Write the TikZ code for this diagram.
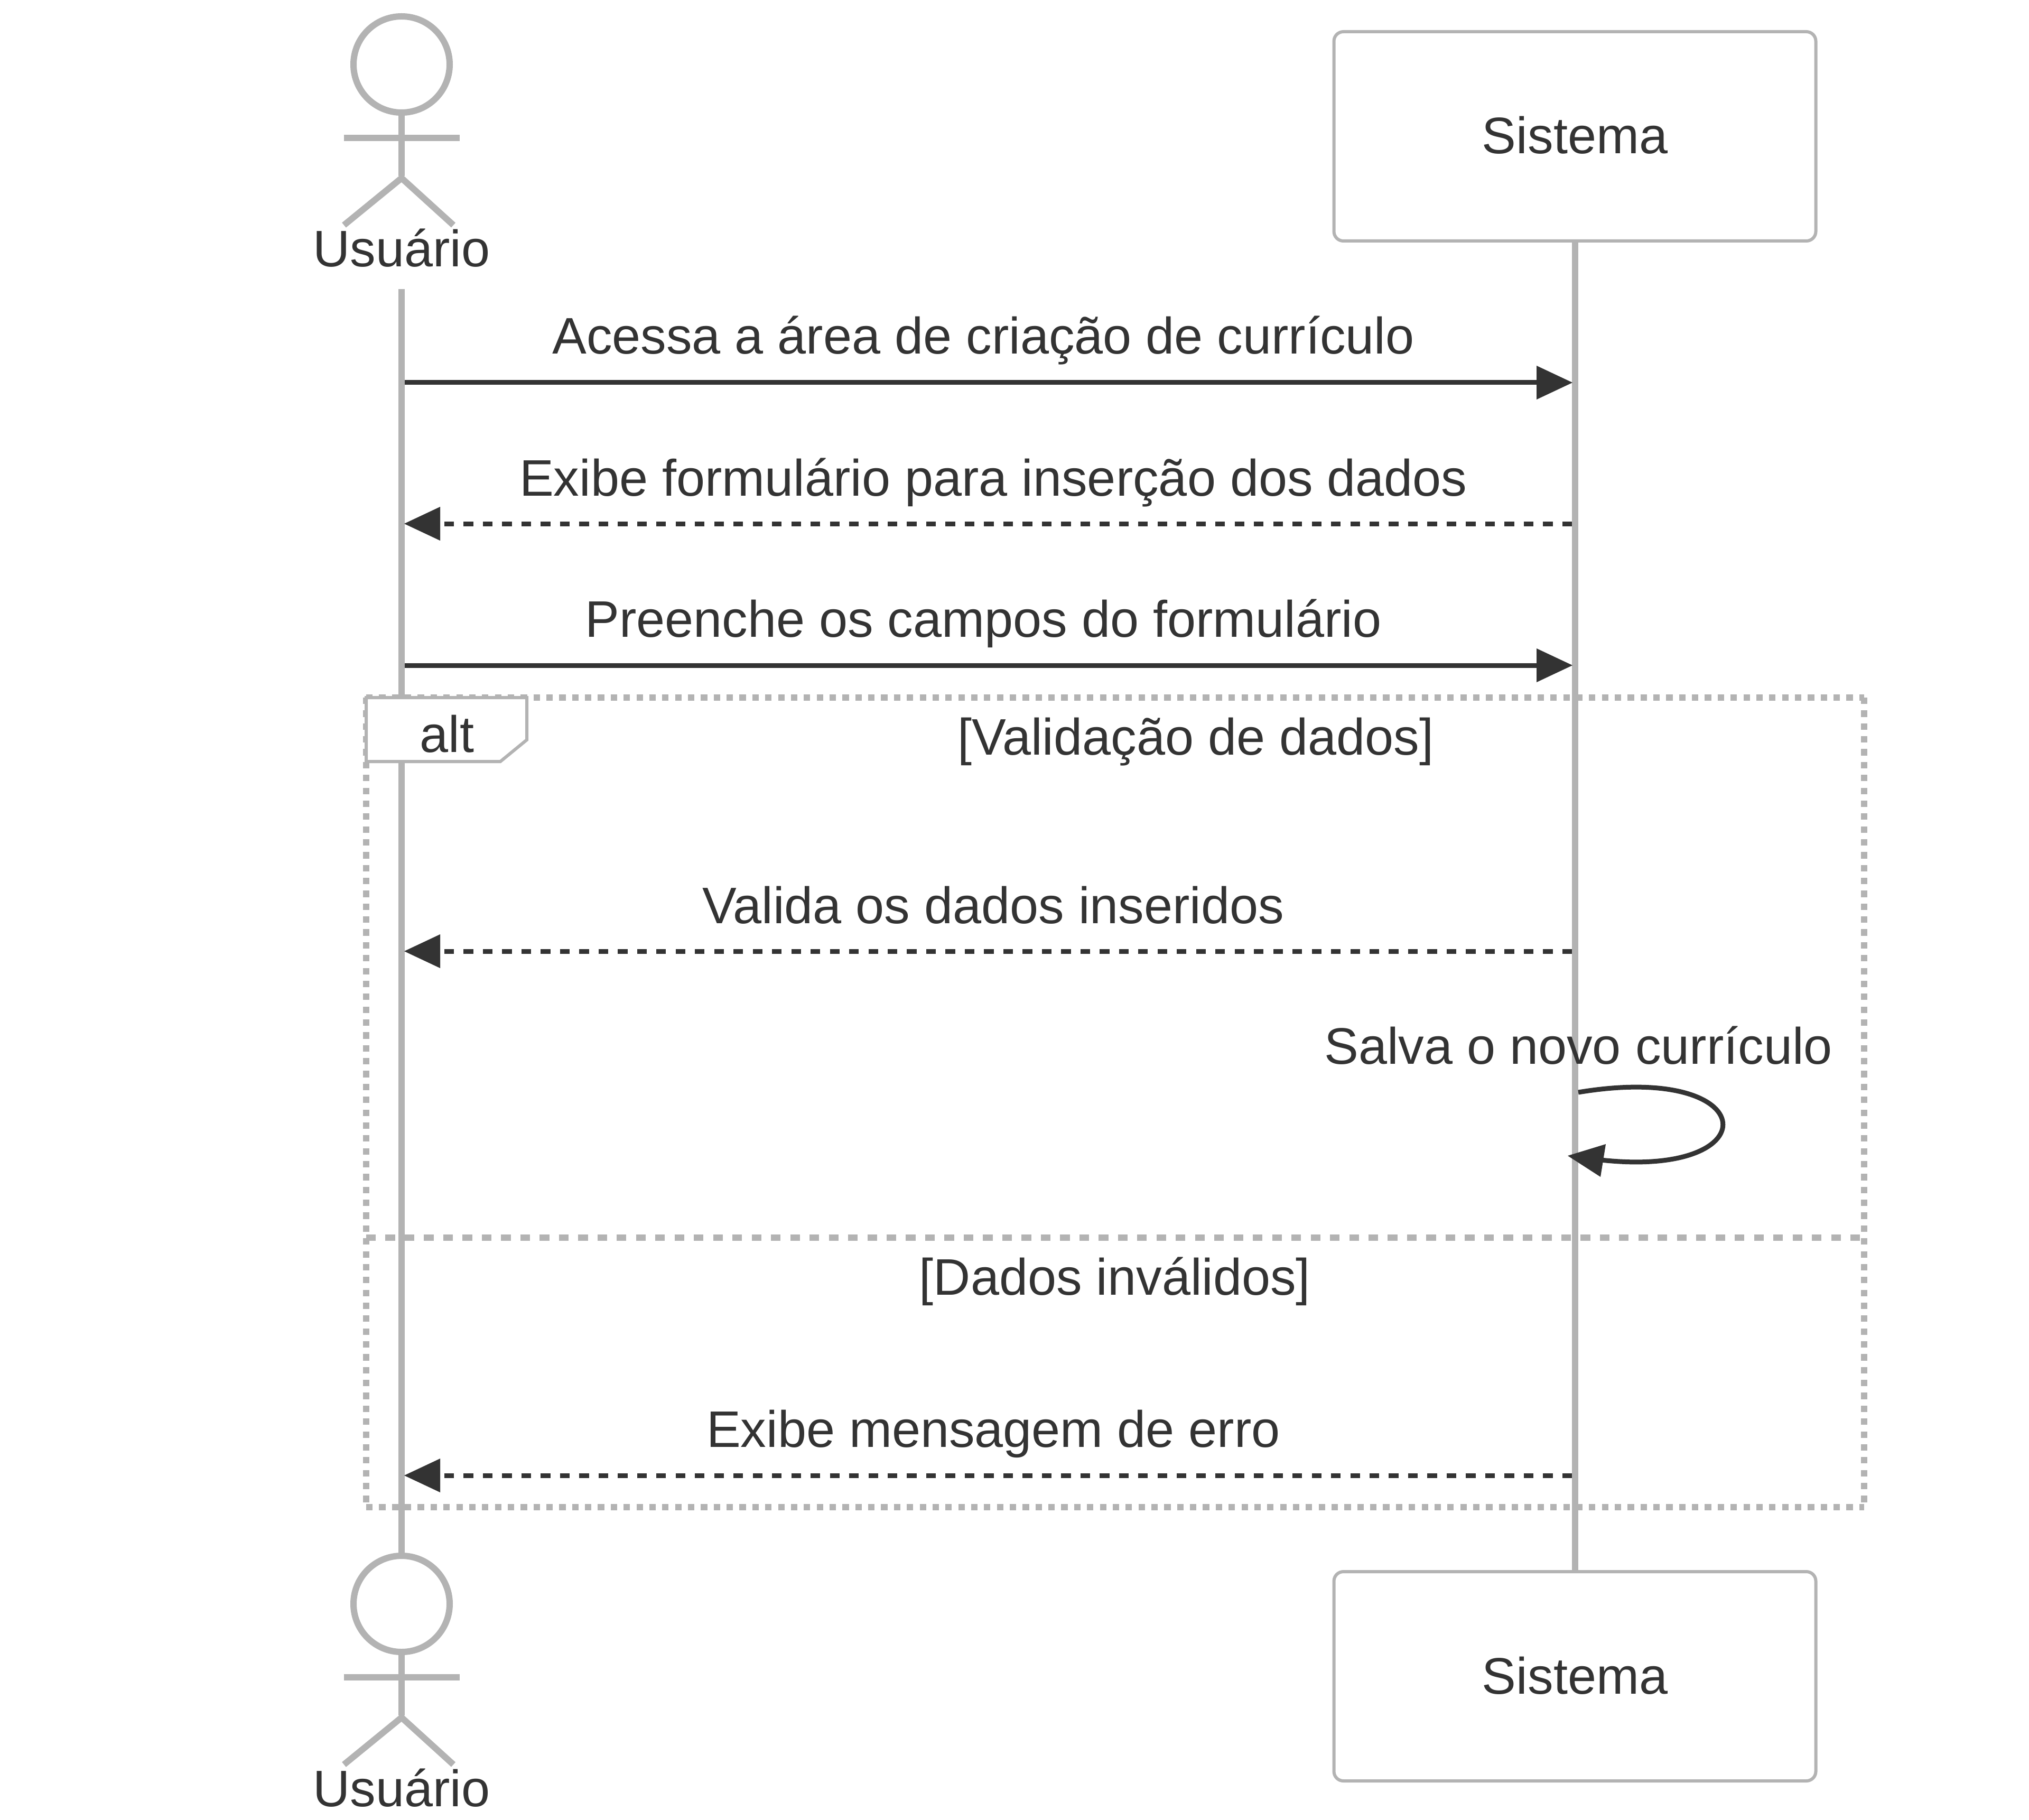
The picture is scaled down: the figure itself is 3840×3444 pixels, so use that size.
\documentclass[tikz,border=0pt]{standalone}
\usepackage{fontspec}
\setmainfont{Liberation Sans}
\usetikzlibrary{arrows.meta}
\definecolor{linegrey}{HTML}{B3B3B3}
\definecolor{ink}{HTML}{333333}
\tikzset{
  lbl/.style={anchor=base,inner sep=0pt,outer sep=0pt,text=ink,font=\fontsize{24.3pt}{29pt}\selectfont},
  lifeline/.style={draw=linegrey,line width=3pt},
  figure/.style={draw=linegrey,line width=3pt},
  headcircle/.style={circle,draw=linegrey,fill=white,line width=3pt,minimum size=45.5pt,inner sep=0pt,outer sep=0pt},
  sysbox/.style={rectangle,draw=linegrey,fill=white,line width=1.5pt,rounded corners=4.5pt,minimum width=228pt,minimum height=99pt,inner sep=0pt,outer sep=0pt},
  framedash/.style={draw=linegrey,line width=3pt,dash pattern=on 3.045pt off 3.045pt},
  sectiondash/.style={draw=linegrey,line width=3pt,dash pattern=on 4.56pt off 4.56pt},
  tag/.style={draw=linegrey,fill=white,line width=1.5pt},
  msgsolid/.style={draw=ink,line width=2.25pt,-{Triangle[length=17pt,width=16pt,line width=0pt,fill=ink]}},
  msgdash/.style={draw=ink,line width=2.25pt,dash pattern=on 4.56pt off 4.56pt,-{Triangle[length=17pt,width=16pt,line width=0pt,fill=ink]}},
  loopline/.style={draw=ink,line width=2.25pt},
}
\begin{document}
\begin{tikzpicture}[x=0.25pt,y=-0.25pt]
\useasboundingbox (0,0) rectangle (3840,3444);
\fill[white] (0,0) rectangle (3840,3444);

% participants
\node[headcircle] (uhead1) at (760,122) {};
\node[headcircle] (uhead2) at (760,3035) {};
\node[sysbox] (sbox1) at (2980.5,258) {};
\node[sysbox] (sbox2) at (2980.5,3172) {};
\coordinate (ulife) at (760,547);

% lifelines
\draw[lifeline] (ulife) -- (uhead2.north);
\draw[lifeline] (sbox1.south) -- (sbox2.north);

% stick figures
\foreach \dy/\nm in {0/uhead1,2913/uhead2}{
  \coordinate (hip) at (760,333+\dy);
  \coordinate (armL) at (650.5,261+\dy);
  \coordinate (armR) at (870,261+\dy);
  \coordinate (legV) at (760,337+\dy);
  \coordinate (legL) at (651,426+\dy);
  \coordinate (legR) at (858,426+\dy);
  \draw[figure] (\nm.south) -- (hip);
  \draw[figure] (armL) -- (armR);
  \draw[figure] (legL) -- (legV) -- (legR);
}
\node[lbl] (ulabel1) at (760,505) {Usuário};
\node[lbl] (ulabel2) at (760,3418) {Usuário};
\node[lbl] (slabel1) at (2980.5,291) {Sistema};
\node[lbl] (slabel2) at (2980.5,3205) {Sistema};

% frame
\coordinate (fTL) at (693,1320);
\coordinate (fTR) at (3528,1320);
\coordinate (fBL) at (693,2852);
\coordinate (fBR) at (3528,2852);
\coordinate (fSL) at (693,2342);
\coordinate (fSR) at (3528,2342);
\draw[framedash] (fTL) -- (fTR);
\draw[framedash] (fTL) -- (fBL);
\draw[framedash] (fTR) -- (fBR);
\draw[framedash] (fBL) -- (fBR);
\draw[sectiondash] (fSL) -- (fSR);
\coordinate (tagA) at (997,1320);
\coordinate (tagB) at (997,1400);
\coordinate (tagC) at (947,1441);
\coordinate (tagD) at (693,1441);
\draw[tag] (fTL) -- (tagA) -- (tagB) -- (tagC) -- (tagD) -- cycle;
\node[lbl] (alttxt) at (846,1423) {alt};
\node[lbl] (cond1) at (2263,1428) {[Validação de dados]};
\node[lbl] (cond2) at (2110,2450) {[Dados inválidos]};

% messages
\coordinate (m1a) at (766,724);   \coordinate (m1b) at (2976,724);
\coordinate (m2a) at (2975,991);  \coordinate (m2b) at (765,991);
\coordinate (m3a) at (766,1259);  \coordinate (m3b) at (2976,1259);
\coordinate (m4a) at (2975,1800); \coordinate (m4b) at (765,1800);
\coordinate (m6a) at (2975,2792); \coordinate (m6b) at (765,2792);
\draw[msgsolid] (m1a) -- (m1b);
\draw[msgdash] (m2a) -- (m2b);
\draw[msgsolid] (m3a) -- (m3b);
\draw[msgdash] (m4a) -- (m4b);
\draw[msgdash] (m6a) -- (m6b);
\node[lbl] (t1) at (1861,670) {Acessa a área de criação de currículo};
\node[lbl] (t2) at (1880,938) {Exibe formulário para inserção dos dados};
\node[lbl] (t3) at (1861,1205) {Preenche os campos do formulário};
\node[lbl] (t4) at (1880,1747) {Valida os dados inseridos};
\node[lbl] (t5) at (2987,2013) {Salva o novo currículo};
\node[lbl] (t6) at (1880,2738) {Exibe mensagem de erro};

% self message
\coordinate (lpS) at (2987,2067);
\coordinate (lpE) at (2987,2189);
\coordinate (lpC1) at (3352,2006);
\coordinate (lpC2) at (3352,2250);
\coordinate (lpTip) at (2967,2187);
\coordinate (lpB1) at (3039,2165);
\coordinate (lpB2) at (3029,2227);
\draw[loopline] (lpS) .. controls (lpC1) and (lpC2) .. (lpE);
\fill[ink] (lpTip) -- (lpB1) -- (lpB2) -- cycle;
\end{tikzpicture}
\end{document}
